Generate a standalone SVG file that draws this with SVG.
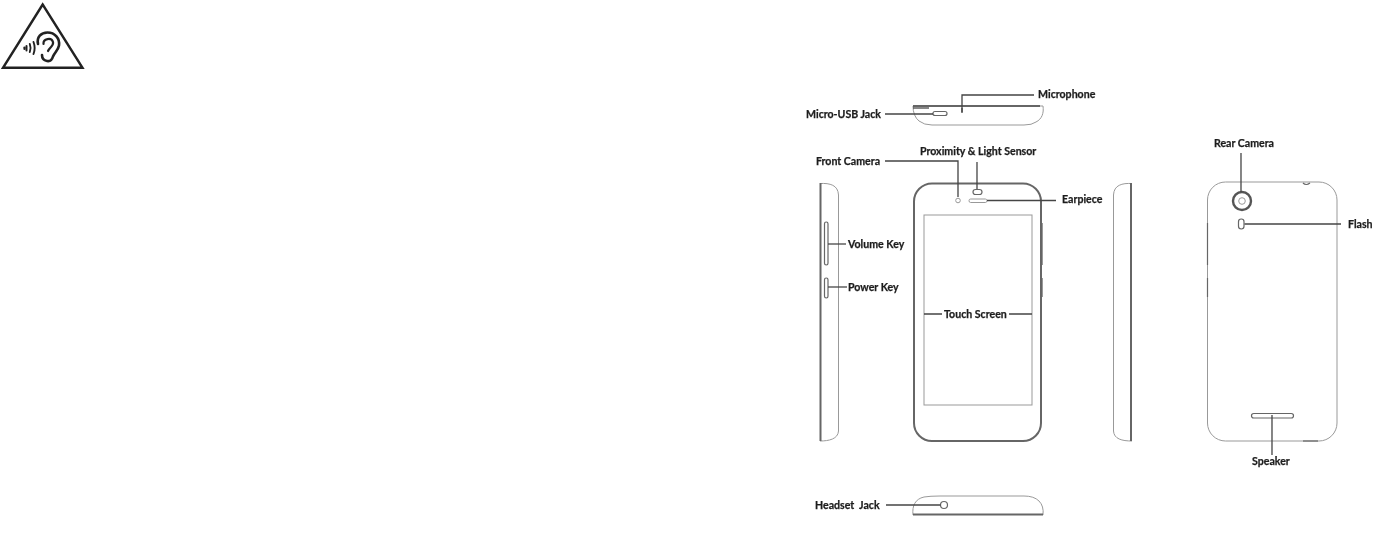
<svg xmlns="http://www.w3.org/2000/svg" width="1390" height="536" viewBox="0 0 1390 536">
<defs>
<style>
.lbl{font-family:Lato,"Liberation Sans",sans-serif;font-weight:700;font-size:10.6px;fill:#1c1c1c;stroke:#1c1c1c;stroke-width:.25}
.ln{fill:none;stroke:#444;stroke-width:1.3}
.thin{fill:none;stroke:#999;stroke-width:1}
.mid{fill:none;stroke:#666;stroke-width:1.2}
.thick{fill:none;stroke:#666;stroke-width:2}
.ic{fill:none;stroke:#222;stroke-linejoin:miter;stroke-linecap:round}
</style>
<filter id="soft" x="-5%" y="-5%" width="110%" height="110%"><feGaussianBlur stdDeviation="0.35"/></filter>
</defs>
<rect width="1390" height="536" fill="#fff"/>
<g id="hearing-warning" filter="url(#soft)">
<path class="ic" stroke-width="2.400" d="M42.700 4.500L3 67.800H82.500Z"/>
<path class="ic" stroke-width="2.600" d="M38 44C36.500 37 41 32.500 47.500 32.500C55 32.500 60 38.500 59 45.500C58.300 50 54.500 52.500 53 56.500C52 60 50 61.500 47 61C43.500 60.300 42 58 42 55"/>
<path class="ic" stroke-width="2.200" d="M43.500 44C43 38.500 51.500 37 53 42C54 46 49.500 47 48 51"/>
<path class="ic" stroke-width="1.900" d="M33.500 42Q35.800 48 33.500 54"/>
<path class="ic" stroke-width="1.900" d="M29.800 44Q31.300 48 29.800 52"/>
<path class="ic" stroke-width="2.200" d="M24.500 47.500V49"/>
<path class="ic" stroke-width="2" d="M26.500 46V50.500"/>
</g>
<g filter="url(#soft)">
<g id="top-view">
<path class="thin" d="M913 106H1043C1044 113 1042 119 1036 122Q1032 125 1024 125H932Q924 125 919 121Q913 116 913 106Z"/>
<path class="ln" stroke-width="1.500" d="M913 106H1040"/>
<path class="ln" d="M913 108H929"/>
<rect class="mid" x="933" y="111.500" width="14" height="4" rx="2"/>
<path class="ln" d="M962 108V113"/>
</g>
<g id="front-view">
<rect class="thick" x="914" y="183.500" width="127" height="257.500" rx="18"/>
<rect class="thin" x="924" y="215" width="108" height="190"/>
<circle class="thin" cx="958" cy="200.500" r="2.300"/>
<rect class="mid" x="973" y="189.500" width="9" height="5" rx="2.500"/>
<rect class="thin" x="969" y="199" width="18" height="3.500" rx="1.700"/>
<path class="thin" d="M1042.500 223V265M1042.500 278V297"/>
</g>
<g id="left-side">
<path class="thin" d="M820 183.500C830 183 838 185 838.500 195V431C838 439 829 441 820 441"/>
<path class="thick" d="M820.500 183V441" stroke-width="2.500"/>
<rect class="mid" x="824.500" y="222" width="3.500" height="43" rx="1.700"/>
<rect class="mid" x="824.500" y="278" width="3.500" height="20" rx="1.700"/>
</g>
<g id="right-side">
<path class="thin" d="M1132 183.500C1122 183 1114 185 1113.500 195V431C1114 439 1122 441 1132 441"/>
<path class="thick" d="M1131 183V441" stroke-width="2.500"/>
</g>
<g id="back-view">
<rect class="thin" x="1207.500" y="182" width="129.500" height="259" rx="18"/>
<path class="mid" d="M1207.500 223V265M1207.500 278V297"/>
<path class="mid" d="M1303 441H1318"/>
<path class="mid" d="M1303 183Q1306 186 1310 183"/>
<circle fill="none" stroke="#555" stroke-width="2.400" cx="1242" cy="201" r="9"/>
<circle class="thin" cx="1242" cy="201" r="3.300"/>
<rect class="mid" x="1238.500" y="219" width="5.500" height="10" rx="2.700"/>
<rect class="mid" x="1251.500" y="413.500" width="42" height="4.500" rx="2.200"/>
</g>
<g id="bottom-view">
<path class="thin" d="M913 515C912 506 915 499 924 497Q930 496 940 496H1024Q1034 496 1039 501Q1044 506 1043 515"/>
<path class="thick" d="M913 514.500H1043"/>
<circle class="mid" cx="944" cy="505" r="3.500"/>
</g>
<g id="connectors">
<path class="ln" d="M962 112V95H1034"/>
<path class="ln" d="M885 114H933"/>
<path class="ln" d="M885 161H958V197"/>
<path class="ln" d="M977 162V189"/>
<path class="ln" d="M987 200.500H1056"/>
<path class="ln" d="M828 244H846"/>
<path class="ln" d="M828 287H847"/>
<path class="ln" d="M924 314H942M1009 314H1032"/>
<path class="ln" d="M886 505H940.500"/>
<path class="ln" d="M1241 153V192"/>
<path class="ln" d="M1244.500 224H1341"/>
<path class="ln" d="M1272 415V455"/>
</g>
<g id="labels">
<text class="lbl" x="1038" y="98">Microphone</text>
<text class="lbl" x="806" y="118">Micro-USB Jack</text>
<text class="lbl" x="920" y="154.500">Proximity &amp; Light Sensor</text>
<text class="lbl" x="816" y="165">Front Camera</text>
<text class="lbl" x="1062" y="203">Earpiece</text>
<text class="lbl" x="848" y="248">Volume Key</text>
<text class="lbl" x="848" y="290.500">Power Key</text>
<text class="lbl" x="944" y="318">Touch Screen</text>
<text class="lbl" x="815" y="509" xml:space="preserve">Headset  Jack</text>
<text class="lbl" x="1214" y="147">Rear Camera</text>
<text class="lbl" x="1348" y="228">Flash</text>
<text class="lbl" x="1252" y="465">Speaker</text>
</g>
</g>
</svg>
